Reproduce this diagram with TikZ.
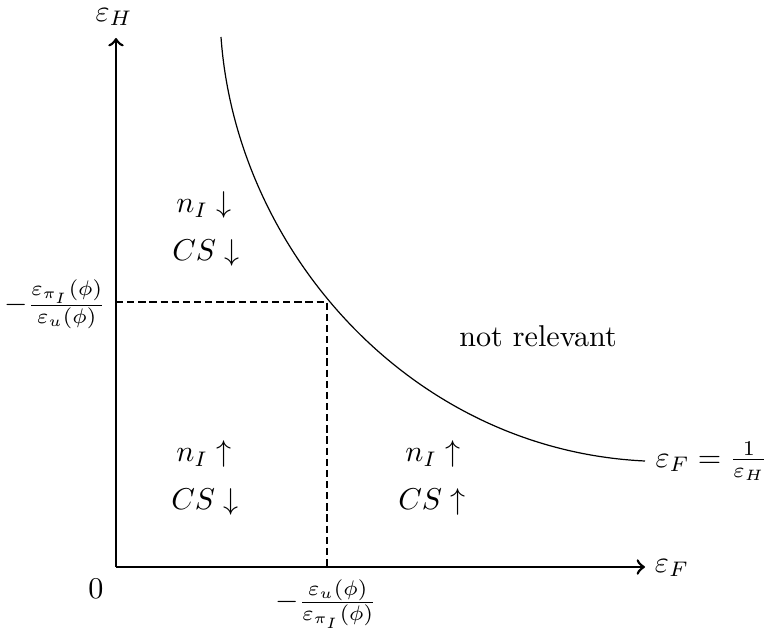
\documentclass[tikz,border=0pt]{standalone}
\usepackage{amsmath}
\begin{document}
\begin{tikzpicture}[x=3.32pt, y=-3.32pt,
  axis/.style={line width=0.9pt, ->},
  guide/.style={line width=0.4pt, dash pattern=on 2.4pt off 1.3pt},
  lbl/.style={inner sep=0pt, anchor=center}]
\useasboundingbox (0,0) rectangle (76.5,63.3);
\coordinate (O) at (11.6,56.7);
\coordinate (X) at (64.5,56.7);
\coordinate (Y) at (11.6,3.8);
\coordinate (P) at (32.7,30.2);
\coordinate (Py) at (11.6,30.2);
\coordinate (Px) at (32.7,56.7);
\coordinate (S) at (22.1,3.7);
\coordinate (E) at (64.5,46.1);
\draw[axis] (O) -- (X);
\draw[axis] (O) -- (Y);
\draw[line width=0.4pt] (S) .. controls (23.6,25.0) and (41.0,45.0) .. (E);
\draw[guide] (Py) -- (P) -- (Px);
\node[lbl] (yl) at (11.4,1.7) {$\varepsilon_H$};
\node[lbl] (xl) at (67.2,56.8) {$\varepsilon_F$};
\node[lbl] (zero) at (9.6,58.9) {$0$};
\node[lbl] (xt) at (32.6,60.4) {$-\frac{\varepsilon_u(\phi)}{\varepsilon_{\pi_I}(\phi)}$};
\node[lbl] (yt) at (5.5,30.4) {$-\frac{\varepsilon_{\pi_I}(\phi)}{\varepsilon_u(\phi)}$};
\node[anchor=west, inner sep=0pt] (cl) at ([xshift=3.3pt] E) {$\varepsilon_F=\frac{1}{\varepsilon_H}$};
\node[lbl] (a1) at (20.4,20.5) {$n_I\downarrow$};
\node[lbl] (a2) at (20.6,25.3) {$CS\downarrow$};
\node[lbl] (b1) at (20.4,45.4) {$n_I\uparrow$};
\node[lbl] (b2) at (20.5,50.2) {$CS\downarrow$};
\node[lbl] (c1) at (43.3,45.4) {$n_I\uparrow$};
\node[lbl] (c2) at (43.2,50.2) {$CS\uparrow$};
\node[lbl] (nr) at (53.8,33.6) {not relevant};
\end{tikzpicture}
\end{document}
